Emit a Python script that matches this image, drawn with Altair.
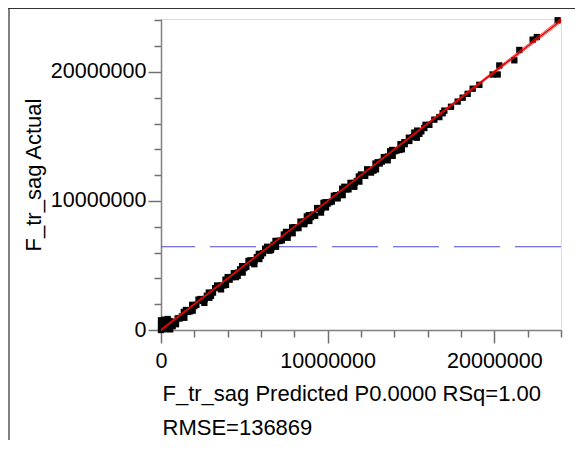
import altair as alt
import pandas as pd

# ---- data (millions) ----
pred_m = [
    0.0, 0.05, 0.1, 0.2, 0.3, 0.35, 0.45, 0.5, 0.6, 0.15, 0.7, 0.8,
    0.0, 0.1, 0.2, 0.25, 0.4, 0.5, 0.55, 0.65, 0.0, 0.3,
    1.0, 1.25, 1.5, 1.75, 2.0, 2.25, 2.5, 2.75, 3.0, 3.25, 3.5, 3.75,
    4.0, 4.25, 4.5, 4.75, 5.0, 5.25, 5.5, 5.75, 6.0, 6.25, 6.5, 6.75,
    7.0, 7.25, 7.5, 7.75, 8.0, 8.25, 8.5, 8.75, 9.0, 9.25, 9.5, 9.75,
    10.0, 10.25, 10.5, 10.75, 11.0, 11.25, 11.5, 11.75, 12.0, 12.25, 12.5, 12.75,
    13.0, 13.25, 13.5, 13.75, 14.0, 14.3, 14.6, 14.9, 15.2, 15.5, 15.8, 16.1,
    1.4, 2.6, 3.6, 4.6, 5.6, 6.6, 7.6, 8.6, 9.6, 10.6, 11.6, 12.6, 13.6, 14.45, 15.35,
    0.9, 1.9, 2.9, 3.9, 4.9, 5.9, 6.9, 7.9, 8.9, 9.9, 10.9, 11.9, 12.9, 13.9,
    1.12, 1.62, 2.12, 2.62, 3.12, 3.62, 4.12, 4.62, 5.12, 5.62, 6.12, 6.62, 7.12, 7.62, 8.12,
    8.62, 9.12, 9.62, 10.12, 10.62, 11.12, 11.62, 12.12, 12.62, 13.12, 13.62, 14.12, 14.62,
    15.12, 15.62,
    1.37, 1.87, 2.37, 2.87, 3.37, 3.87, 4.37, 4.87, 5.37, 5.87, 6.37, 6.87, 7.37, 7.87, 8.37,
    8.87, 9.37, 9.87, 10.37, 10.87, 11.37, 11.87, 12.37, 12.87, 13.37, 13.87, 14.37, 14.87,
    15.37, 15.87,
    16.4, 16.7, 16.9, 17.0, 17.4, 17.8, 18.1, 18.4, 18.7, 19.1, 19.9, 20.2,
    20.3, 21.2, 21.5, 22.3, 22.55, 23.8,
]
act_m = [
    0.0, 0.6, 0.3, 0.8, 0.1, 0.5, 0.2, 0.7, 0.4, 0.05, 0.3, 0.55,
    0.3, 0.6, 0.2, 0.7, 0.85, 0.45, 0.05, 0.65, 0.75, 0.35,
    0.9, 1.05, 1.55, 1.45, 1.85, 2.35, 2.25, 2.65, 2.65, 3.25, 3.3, 3.45,
    4.1, 4.1, 4.1, 4.7, 4.8, 5.35, 5.2, 5.65, 5.75, 6.3, 6.15, 6.6,
    6.9, 6.95, 7.6, 7.55, 7.95, 7.9, 8.35, 8.8, 8.75, 8.85, 9.4, 9.85,
    9.8, 9.95, 10.45, 10.5, 11.1, 10.9, 11.35, 11.55, 12.05, 11.95, 12.4, 12.35,
    13.0, 13.05, 13.2, 13.85, 13.85, 13.95, 14.55, 14.65, 15.3, 15.2, 15.65, 15.9,
    0.95, 2.1, 3.15, 4.2, 5.1, 6.2, 7.15, 8.2, 9.1, 10.2, 11.1, 12.2, 13.15, 14.0, 14.9,
    0.45, 1.5, 2.5, 3.5, 4.45, 5.5, 6.45, 7.5, 8.45, 9.5, 10.45, 11.5, 12.45, 13.5,
    0.9, 1.4, 1.95, 2.4, 2.9, 3.45, 3.9, 4.45, 4.9, 5.4, 5.95, 6.4, 6.9, 7.45, 7.9,
    8.4, 8.95, 9.4, 9.9, 10.45, 10.9, 11.4, 11.95, 12.4, 12.9, 13.45, 13.9, 14.4,
    14.95, 15.4,
    1.4, 1.95, 2.4, 2.9, 3.45, 3.9, 4.4, 4.95, 5.4, 5.9, 6.45, 6.9, 7.4, 7.95, 8.4,
    8.9, 9.45, 9.9, 10.4, 10.95, 11.4, 11.9, 12.45, 12.9, 13.4, 13.95, 14.4, 14.9,
    15.45, 15.9,
    16.3, 16.5, 16.8, 17.0, 17.3, 17.7, 18.0, 18.3, 18.7, 19.0, 19.8, 19.8,
    20.5, 20.9, 21.7, 22.5, 22.7, 24.0,
]
fit_pred_m = [0.0, 24.0]
fit_act_m = [0.0, 24.0]
conf_band = ["upper", "upper", "upper", "lower", "lower", "lower"]
conf_pred_m = [0.0, 6.5, 24.0, 0.0, 6.5, 24.0]
conf_act_m = [0.07, 6.52, 24.15, -0.07, 6.48, 23.85]
mean_act_m = [6.45]
tick_values = [0, 2000000, 4000000, 6000000, 8000000, 10000000, 12000000,
               14000000, 16000000, 18000000, 20000000, 22000000, 24000000]

x_title = ["F_tr_sag Predicted P0.0000 RSq=1.00", "RMSE=136869"]
y_title = "F_tr_sag Actual"

M = 1000000
pts = pd.DataFrame({"x": [v * M for v in pred_m], "y": [v * M for v in act_m]})
fit = pd.DataFrame({"x": [v * M for v in fit_pred_m], "y": [v * M for v in fit_act_m]})
conf = pd.DataFrame({"x": [v * M for v in conf_pred_m], "y": [v * M for v in conf_act_m],
                     "band": conf_band})
mean_df = pd.DataFrame({"y": [v * M for v in mean_act_m]})
dummy = pd.DataFrame({"a": [0]})

FONT = "Liberation Sans"
tick_size = {"condition": {"test": "datum.value % 10000000 === 0", "value": 13}, "value": 7}
label_expr = "datum.value % 10000000 === 0 ? datum.label : ''"

xaxis = alt.Axis(values=tick_values, format="d", labelExpr=label_expr, tickSize=tick_size,
                 grid=False, labelFlush=False, labelOverlap=False, labelFontSize=21.5,
                 labelFont=FONT, labelColor="black", labelPadding=7,
                 domainColor="#808080", domainWidth=1.5, tickColor="#707070", tickWidth=1.5,
                 title=x_title, titleFont=FONT, titleFontSize=22, titleFontWeight="normal",
                 titleColor="black", titleAnchor="start", titleAlign="left",
                 titleBaseline="alphabetic", titleX=1, titleY=70, titleLineHeight=34)
yaxis = alt.Axis(values=tick_values, format="d", labelExpr=label_expr, tickSize=tick_size,
                 grid=False, labelFlush=False, labelOverlap=False, labelFontSize=21.5,
                 labelFont=FONT, labelColor="black", labelPadding=2,
                 domainColor="#808080", domainWidth=1.5, tickColor="#707070", tickWidth=1.5,
                 title=y_title, titleFont=FONT, titleFontSize=22, titleFontWeight="normal",
                 titleColor="black", titleAlign="center", titleAngle=270,
                 titleBaseline="alphabetic", titleX=-121, titleY=155.5)

xenc = alt.X("x:Q", scale=alt.Scale(domain=[0, 24000000], nice=False), axis=xaxis)
yenc = alt.Y("y:Q", scale=alt.Scale(domain=[0, 24100000], nice=False), axis=yaxis)

mean_rule = alt.Chart(mean_df).mark_rule(color="#4a4ad6", strokeWidth=1,
                                         strokeDash=[46, 15]).encode(y=yenc)
points = alt.Chart(pts).mark_square(size=40, color="black", opacity=1).encode(x=xenc, y=yenc)
conf_lines = alt.Chart(conf).mark_line(color="#ff2020", strokeWidth=0.8, interpolate="monotone").encode(
    x=xenc, y=yenc, detail="band:N")
fit_line = alt.Chart(fit).mark_line(color="#e00000", strokeWidth=1.5).encode(x=xenc, y=yenc)

frame_left = alt.Chart(dummy).mark_rule(color="#808080", strokeWidth=2).encode(
    x=alt.value(-152), y=alt.value(-11), y2=alt.value(421))
frame_top = alt.Chart(dummy).mark_rule(color="#333333", strokeWidth=1).encode(
    x=alt.value(-153), x2=alt.value(414), y=alt.value(-10.5))

chart = alt.layer(mean_rule, points, conf_lines, fit_line, frame_left, frame_top).properties(
    width=400, height=311,
    autosize=alt.AutoSizeParams(type="none"),
    padding={"left": 153, "top": 11, "right": 14, "bottom": 110},
).configure_view(stroke="#555555", strokeWidth=1).configure(background="white")

chart.save("out.html", embed_options={"renderer": "svg", "actions": False})
